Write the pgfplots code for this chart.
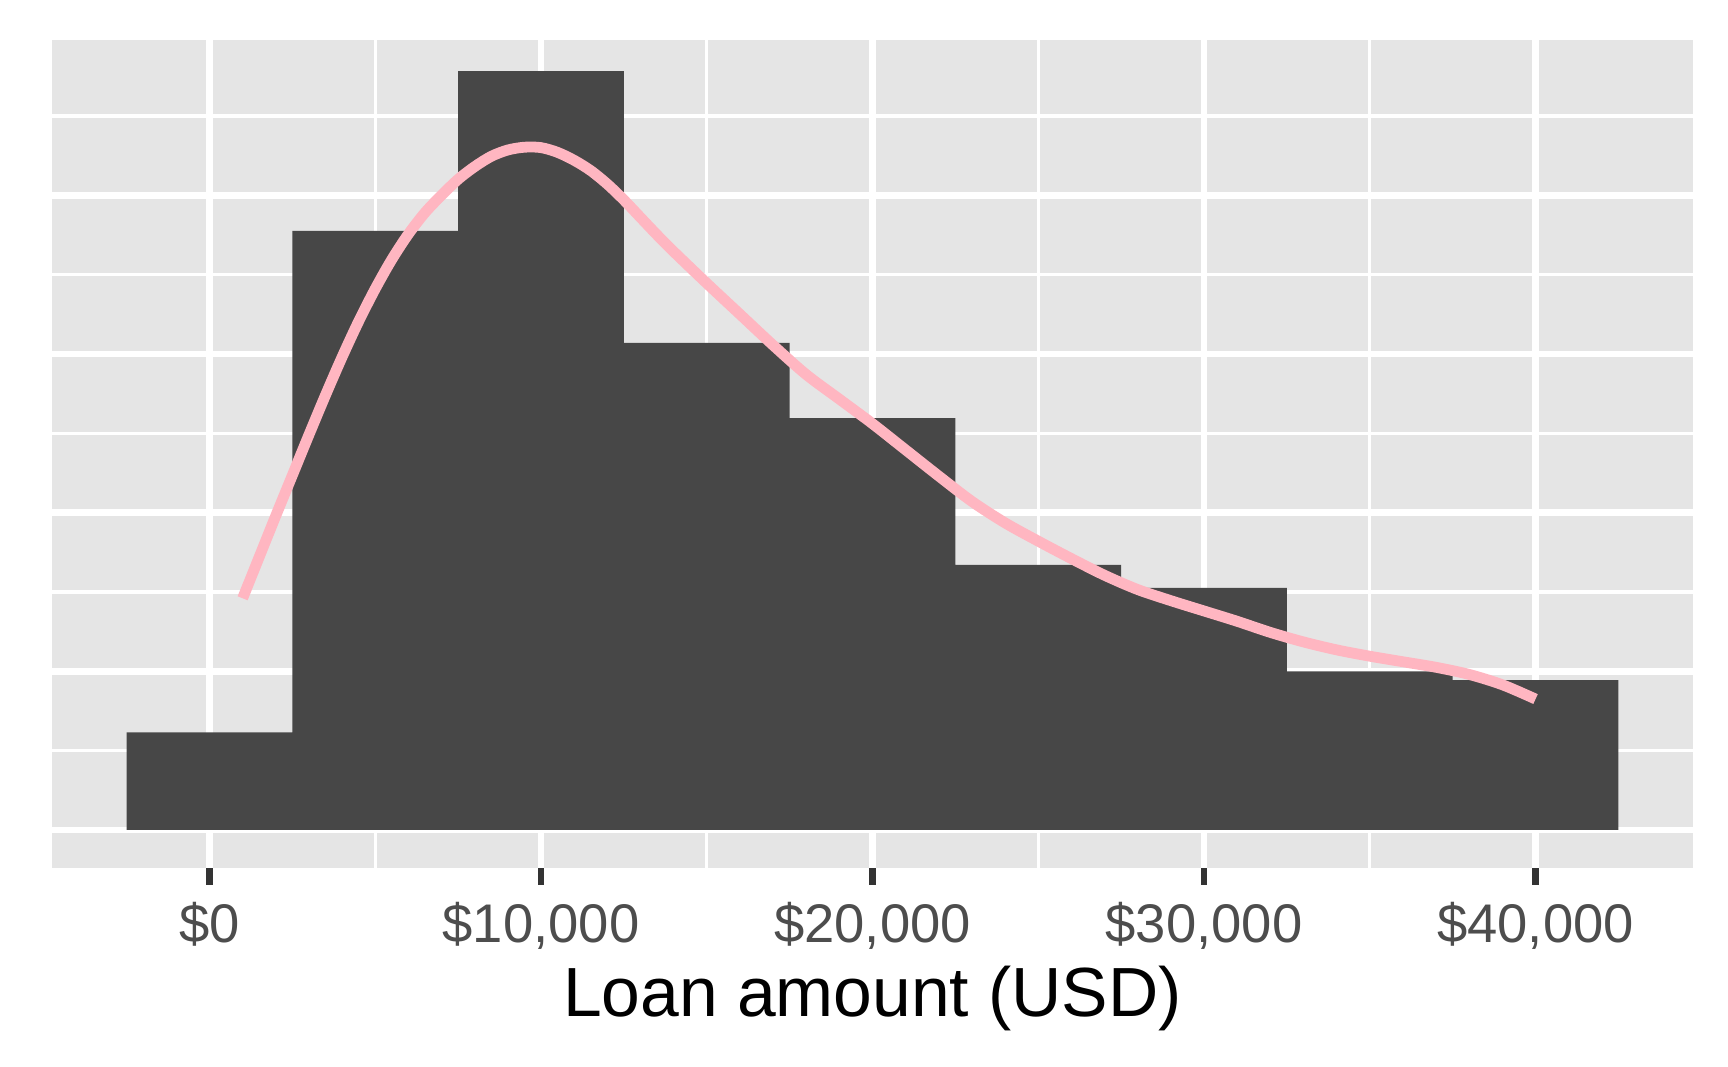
\documentclass[border=0pt]{standalone}
\usepackage{fontspec}
\setmainfont{Liberation Sans}
\usepackage{pgfplots}
\pgfplotsset{compat=1.18}
\definecolor{barfill}{HTML}{474747}
\definecolor{panelgrey}{HTML}{E5E5E5}
\definecolor{densepink}{HTML}{FFB6C1}
\definecolor{ticktext}{HTML}{4D4D4D}
\definecolor{tickmark}{HTML}{333333}

\begin{document}
\begin{tikzpicture}
\useasboundingbox (-13pt,-49.75pt) rectangle (419pt,217pt);
\begin{axis}[
  at={(0,0)}, anchor=south west,
  scale only axis,
  width=410.25pt, height=207pt,
  xmin=-4750, xmax=44750,
  ymin=-4.79, ymax=99.56,
  axis background/.style={fill=panelgrey},
  axis line style={draw=none},
  scaled x ticks=false,
  xtick={0,10000,20000,30000,40000},
  xticklabels={{\$0},{\$10,000},{\$20,000},{\$30,000},{\$40,000}},
  minor xtick={5000,15000,25000,35000},
  ytick={0,20,40,60,80},
  minor ytick={10,30,50,70,90},
  yticklabels={},
  ytick style={draw=none},
  xtick pos=bottom,
  tick align=outside,
  major tick length=4.25pt,
  minor tick length=0pt,
  xtick style={color=tickmark, line width=1.7pt},
  grid=both,
  major grid style={white, line width=1.67pt},
  minor grid style={white, line width=0.83pt},
  xticklabel style={font=\fontsize{13.6}{16}\selectfont, text=ticktext, anchor=base, yshift=-14.3pt},
  xlabel={Loan amount (USD)},
  xlabel style={at={(axis description cs:0.5,0)}, anchor=base, yshift=-37.2pt,
                font=\fontsize{17.4}{21}\selectfont, text=black},
]

% histogram, bins of 5000 centred on multiples of 5000
\addplot[const plot mark left, fill=barfill, draw=none] coordinates {
  (-2500,12.3) (2500,75.5) (7500,95.65) (12500,61.4) (17500,51.9)
  (22500,33.4) (27500,30.5) (32500,20.0) (37500,18.9) (42500,18.9)
} \closedcycle;

% density curve
\addplot[smooth, densepink, line width=2.7pt] coordinates {
  (1000,29.2) (1500,34.4) (2000,39.6) (2500,44.7) (3000,49.8)
  (3500,54.8) (4000,59.6) (4500,64.1) (5000,68.2) (5500,71.9)
  (6000,75.1) (6500,77.8) (7000,80.0) (7500,82.0) (8000,83.6)
  (8500,84.9) (9000,85.7) (9500,86.05) (10000,86.0) (10500,85.4)
  (11000,84.4) (11500,83.1) (12000,81.4) (12500,79.4) (13000,77.2)
  (13500,75.0) (14000,72.9) (15000,68.9) (16000,65.0) (17000,61.1)
  (18000,57.4) (19000,54.3) (20000,51.2) (21000,47.9) (22000,44.6)
  (23000,41.4) (24000,38.7) (25000,36.4) (26000,34.2) (27000,32.1)
  (28000,30.3) (29000,28.9) (30000,27.6) (31000,26.3) (32000,24.9)
  (33000,23.7) (34000,22.7) (35000,21.9) (36000,21.2) (37000,20.5)
  (38000,19.6) (39000,18.3) (40000,16.5)
};

\end{axis}
\end{tikzpicture}
\end{document}
